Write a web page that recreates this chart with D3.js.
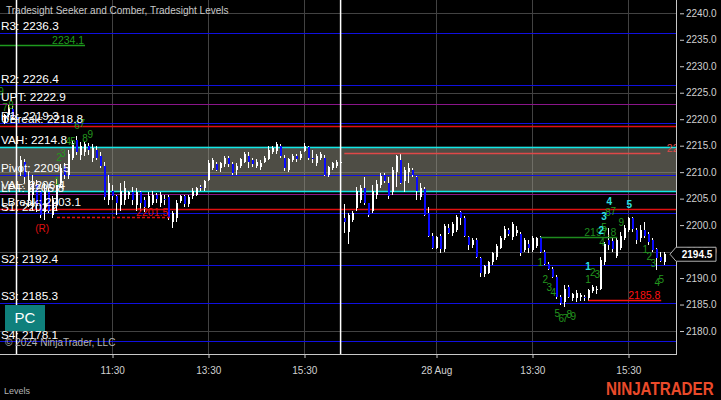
<!DOCTYPE html>
<html><head><meta charset="utf-8">
<script src="https://cdn.jsdelivr.net/npm/d3@7"></script>
<style>html,body{margin:0;padding:0;background:#000;}svg{display:block;font-family:Arial,"Liberation Sans",sans-serif;}</style>
</head><body><svg id="c" width="721" height="400"></svg>
<script>
// ---------- data ----------
const firstBar = 1;
const opens = [2219.5,2220.75,2222.0,2220.5,2210.0,2212.0,2204.75,2205.75,2207.5,2206.25,
2202.5,2206.25,2202.0,2203.75,2208.0,2211.25,2209.5,2212.75,2216.0,2213.25,
2213.75,2215.0,2212.75,2214.25,2213.0,2211.25,2204.75,2206.5,2205.5,2203.75,
2204.75,2205.75,2206.25,2203.75,2206.25,2204.75,2203.5,2204.25,2205.75,2204.25,
2205.0,2205.25,2200.5,2201.25,2204.5,2205.5,2204.0,2205.5,2205.75,2207.25,
2207.0,2208.5,2210.75,2211.5,2210.75,2211.5,2212.75,2211.5,2210.5,2211.25,
2212.0,2213.0,2212.25,2211.25,2211.0,2212.0,2212.5,2213.75,2214.0,2215.0,
2212.75,2210.5,2212.25,2213.0,2212.75,2214.0,2214.75,2212.75,2211.75,2212.75,
2212.75,2209.5,2210.75,2211.25,2212.0,2201.25,2198.75,2201.0,2203.25,2204.75,
2207.0,2204.25,2202.75,2205.75,2207.5,2209.5,2208.0,2206.25,2210.0,2212.25,
2208.25,2210.0,2210.5,2209.0,2205.25,2206.75,2202.25,2198.0,2195.75,2198.0,
2195.5,2199.5,2198.5,2199.0,2202.5,2201.25,2197.75,2196.25,2197.25,2193.75,
2190.75,2191.0,2193.0,2194.0,2195.75,2197.5,2199.0,2197.75,2198.5,2198.25,
2195.25,2196.5,2195.25,2196.0,2197.75,2195.0,2192.75,2191.75,2190.25,2186.5,
2185.5,2188.25,2186.25,2186.25,2186.5,2186.5,2186.25,2187.5,2187.75,2188.0,
2193.0,2197.25,2197.0,2194.25,2195.75,2197.5,2199.0,2201.25,2199.0,2197.5,
2199.0,2198.25,2197.25,2195.5,2194.0,2193.0];
const highs = [2221.0,2222.75,2222.5,2221.0,2213.0,2212.5,2210.0,2209.5,2208.5,2206.5,
2208.0,2207.0,2205.5,2208.75,2211.5,2211.75,2214.25,2216.0,2216.75,2215.75,
2215.75,2215.5,2215.25,2215.0,2213.75,2212.0,2209.5,2207.5,2205.75,2208.0,
2208.25,2206.5,2207.25,2207.0,2206.5,2205.25,2206.25,2206.5,2206.0,2206.25,
2205.75,2205.75,2202.75,2204.75,2205.75,2205.75,2205.75,2207.0,2207.25,2207.5,
2208.5,2212.25,2212.75,2212.0,2212.0,2213.0,2213.0,2212.0,2211.75,2212.75,
2213.75,2213.75,2212.75,2212.5,2212.25,2213.0,2215.0,2215.0,2215.75,2215.25,
2213.25,2212.75,2213.5,2213.5,2214.0,2215.5,2215.0,2214.25,2213.5,2213.75,
2213.25,2211.25,2212.0,2212.25,2212.0,2204.0,2202.25,2202.75,2207.25,2207.5,
2209.0,2204.25,2207.5,2208.5,2209.75,2209.75,2209.0,2211.0,2213.25,2213.5,
2211.0,2211.75,2210.75,2209.25,2208.0,2207.25,2203.5,2198.5,2198.0,2198.25,
2200.25,2200.25,2200.5,2202.0,2202.75,2201.75,2198.0,2197.5,2197.5,2194.0,
2192.5,2193.25,2195.0,2196.5,2198.0,2199.75,2199.5,2200.5,2199.75,2198.75,
2197.5,2197.25,2198.0,2197.75,2198.0,2195.25,2193.0,2192.0,2190.5,2186.75,
2188.75,2188.75,2187.25,2187.75,2187.25,2186.75,2188.0,2188.75,2188.5,2194.0,
2196.75,2199.5,2197.5,2197.75,2198.75,2200.0,2201.5,2201.5,2199.5,2200.0,
2200.5,2198.75,2197.5,2195.75,2195.0,2195.0];
const lows = [2219.0,2220.5,2220.25,2219.75,2209.25,2208.0,2203.5,2202.75,2202.5,2201.25,
2201.0,2202.25,2201.25,2202.75,2207.25,2208.75,2208.75,2212.25,2213.25,2212.25,
2213.0,2213.25,2212.0,2212.25,2210.75,2204.75,2203.75,2204.75,2202.0,2202.75,
2203.75,2205.0,2203.75,2202.75,2202.75,2202.5,2203.25,2203.75,2204.25,2203.5,
2203.75,2201.0,2199.5,2200.5,2204.25,2203.5,2203.5,2205.0,2205.5,2206.5,
2206.5,2208.25,2210.5,2210.25,2210.0,2211.0,2211.0,2209.5,2209.5,2210.75,
2211.75,2210.75,2211.0,2210.75,2210.5,2211.75,2212.25,2213.5,2213.5,2212.75,
2210.25,2210.0,2212.0,2212.0,2212.25,2213.75,2212.25,2211.75,2211.25,2212.25,
2209.25,2209.0,2210.5,2210.75,2211.75,2198.5,2196.5,2200.5,2202.75,2204.25,
2203.75,2201.5,2202.25,2205.0,2207.0,2208.0,2205.0,2205.75,2207.25,2207.75,
2206.25,2208.0,2209.0,2204.75,2204.75,2201.75,2197.75,2195.5,2195.5,2194.75,
2195.0,2198.25,2198.0,2198.75,2200.0,2197.75,2195.25,2195.75,2193.75,2190.25,
2190.25,2190.75,2192.5,2193.5,2195.5,2197.25,2198.0,2197.25,2198.0,2194.25,
2195.0,2194.75,2195.0,2195.75,2194.75,2192.5,2191.5,2190.0,2186.0,2185.0,
2184.5,2186.25,2185.75,2185.5,2185.75,2185.75,2185.75,2187.25,2187.0,2187.75,
2192.5,2195.25,2195.0,2193.75,2195.25,2197.25,2198.75,2198.75,2196.5,2196.75,
2197.5,2196.25,2195.0,2191.5,2193.0,2192.5];
const closes = [2220.75,2222.25,2220.5,2220.0,2212.25,2209.0,2208.5,2208.0,2203.75,2202.0,
2206.5,2202.75,2204.75,2207.5,2210.75,2209.5,2213.5,2215.5,2213.75,2215.0,
2215.25,2214.25,2214.5,2212.75,2211.25,2205.25,2208.0,2205.5,2204.25,2206.5,
2207.0,2206.25,2204.75,2206.25,2204.25,2203.5,2205.5,2205.75,2205.0,2205.75,
2204.75,2201.25,2202.25,2204.25,2205.5,2204.0,2205.25,2206.5,2207.0,2207.0,
2208.25,2211.75,2212.25,2210.5,2211.75,2212.75,2211.5,2209.75,2211.25,2212.5,
2213.5,2212.0,2211.5,2212.0,2211.75,2212.75,2214.25,2214.5,2215.25,2213.0,
2210.75,2212.5,2213.0,2212.5,2213.5,2215.0,2212.75,2212.5,2213.0,2213.5,
2209.5,2211.0,2211.75,2212.0,2212.0,2200.5,2202.0,2202.25,2206.5,2207.0,
2204.25,2202.0,2206.5,2207.75,2209.25,2208.25,2205.5,2210.5,2213.0,2208.0,
2210.5,2210.75,2209.5,2206.5,2207.0,2202.0,2198.0,2195.75,2197.75,2195.5,
2199.75,2198.5,2200.25,2201.5,2201.25,2198.0,2196.25,2197.25,2194.0,2191.0,
2192.25,2193.0,2194.75,2196.0,2197.5,2199.25,2198.25,2200.25,2199.0,2194.75,
2197.25,2195.75,2197.5,2197.5,2195.0,2192.75,2191.75,2190.25,2186.5,2185.25,
2188.0,2186.5,2187.0,2187.25,2186.75,2186.25,2187.75,2188.25,2188.0,2193.5,
2196.5,2196.25,2195.5,2197.25,2198.0,2199.5,2201.25,2199.25,2197.25,2199.0,
2198.0,2196.75,2195.25,2193.75,2193.25,2194.5];

const timeTickBars = [28, 52, 76, 109, 133, 157];
const timeTickLabels = ["11:30", "13:30", "15:30", "28 Aug", "13:30", "15:30"];
const priceTicks = [2180,2185,2190,2195,2200,2205,2210,2215,2220,2225,2230,2235,2240];
const gridPrices = [2180,2195,2210,2225,2240];
const sessionBars = [4, 85];

const levelNames  = ["R3","R2","UPT","R1","UBreak","VAH","Pivot","VAL","LPT","LBreak","S1","S2","S3","S4"];
const levelValues = [2236.3,2226.4,2222.9,2219.3,2218.8,2214.8,2209.5,2206.4,2205.8,2203.1,2202.2,2192.4,2185.3,2178.1];
const levelColors = ["#1010e0","#1010e0","#8a158a","#1010e0","#e01010","#10e8e8","#1010e0","#10e8e8","#8a158a","#e01010","#1010e0","#1010e0","#1010e0","#1010e0"];
const vaHigh = 2214.8, vaLow = 2206.4;

// horizontal segment markers
const segPrices = [2234.1, 2201.5, 2213.6, 2197.8, 2185.8];
const segFrom   = [-0.05, 14.2, 86.0, 135.0, 147.0];
const segTo     = [21.2, 42.4, 165.0, 154.2, 165.2];
const segColors = ["#1e9a1e", "#e01010", "#e04848", "#1e8a1e", "#ff1010"];
const segDashed = [false, true, false, false, false];
const segLabels = ["2234.1", "2201.5", "2213.6", "2197.8", "2185.8"];
const segLabelBar = [21.0, 42.0, 166.6, 154.0, 165.0];
const segLabelAnchor = ["end", "end", "start", "end", "end"];

const greenCountText = ["9","7","8","1","2","3","4","5","6","7","8","9","1","2","3","4","5","6","7","8","9","1","2","3","4","5","8","7","9","1","2","3","4","5"];
const greenCountBar = [0.2,1.2,2.7,14.2,14.7,15.7,17.0,18.2,19.2,20.5,21.2,22.5,135.0,136.2,137.2,138.2,139.2,140.2,141.2,142.2,143.2,146.9,148.1,149.2,150.4,150.9,151.9,153.2,155.2,161.2,162.2,163.2,164.2,165.2];
const greenCountPrice = [2225.3,2222.3,2222.5,2208.3,2212.7,2213.6,2215.7,2215.7,2218.9,2219.1,2216.4,2217.2,2192.85,2189.8,2188.3,2187.2,2183.4,2182.45,2182.45,2183.2,2182.65,2189.8,2191.1,2190.6,2196.8,2199.6,2202.3,2202.5,2200.4,2195.3,2194.0,2192.7,2189.1,2189.8];
const cyanCountText = ["1","2","3","4","5"];
const cyanCountBar = [146.9,150.2,150.9,152.2,157.2];
const cyanCountPrice = [2192.1,2198.9,2201.7,2204.4,2203.8];

const lastPrice = 2194.5;

// ---------- drawing ----------
const W = 721, H = 400, PR = 676, PB = 354;
const svg = d3.select("#c");
const x = d3.scaleLinear().domain([-0.05, 168.9]).range([0, PR]);
const y = d3.scaleLinear().domain([2175.66, 2242.51]).range([PB, 0]);

svg.append("rect").attr("width", W).attr("height", H).attr("fill", "#000");
svg.append("defs").append("clipPath").attr("id", "clip")
  .append("rect").attr("width", PR).attr("height", PB);
const plot = svg.append("g").attr("clip-path", "url(#clip)");

// grid
plot.selectAll(".vg").data(timeTickBars).join("line")
  .attr("x1", d => Math.round(x(d)) + 0.5).attr("x2", d => Math.round(x(d)) + 0.5)
  .attr("y1", 0).attr("y2", PB).attr("stroke", "#424242").attr("stroke-width", 1);
plot.selectAll(".hg").data(gridPrices).join("line")
  .attr("x1", 0).attr("x2", PR)
  .attr("y1", d => Math.round(y(d)) + 0.5).attr("y2", d => Math.round(y(d)) + 0.5)
  .attr("stroke", "#424242").attr("stroke-width", 1);

// value area fill (semi-transparent)
plot.append("rect").attr("x", 0).attr("width", PR)
  .attr("y", y(vaHigh)).attr("height", y(vaLow) - y(vaHigh))
  .attr("fill", "#9c9a8a").attr("fill-opacity", 0.5);

// level lines
levelValues.forEach((v, k) => {
  const yy = Math.round(y(v)) + 0.5;
  plot.append("line").attr("x1", 0).attr("x2", PR).attr("y1", yy).attr("y2", yy)
    .attr("stroke", levelColors[k]).attr("stroke-width", levelColors[k] === "#10e8e8" || levelColors[k] === "#e01010" ? 1.6 : 1.2);
});

// candles
const bars = opens.map((o, k) => ({ i: firstBar + k, o, h: highs[k], l: lows[k], c: closes[k] }));
const cg = plot.append("g").attr("shape-rendering", "crispEdges");
bars.forEach(b => {
  const px = Math.round(x(b.i));
  const up = b.c >= b.o;
  cg.append("rect").attr("x", px).attr("width", 1)
    .attr("y", y(b.h)).attr("height", Math.max(1, y(b.l) - y(b.h))).attr("fill", "#fff");
  const top = y(Math.max(b.o, b.c)), bot = y(Math.min(b.o, b.c));
  cg.append("rect").attr("x", px - 0.5).attr("width", 2.2)
    .attr("y", top).attr("height", Math.max(1, bot - top))
    .attr("fill", up ? "#ffffff" : "#0a0aff");
});

// segment markers
segPrices.forEach((p, k) => {
  const yy = Math.round(y(p)) + 0.5;
  plot.append("line").attr("x1", x(segFrom[k])).attr("x2", x(segTo[k])).attr("y1", yy).attr("y2", yy)
    .attr("stroke", segColors[k]).attr("stroke-width", 1.5)
    .attr("stroke-dasharray", segDashed[k] ? "3,2" : null);
  plot.append("text").attr("x", x(segLabelBar[k])).attr("y", yy - 1.5)
    .attr("text-anchor", segLabelAnchor[k]).attr("font-size", 10.5)
    .attr("fill", segColors[k]).text(segLabels[k]);
});
plot.append("text").attr("x", x(10.5)).attr("y", y(2199.4)).attr("dy", "0.35em")
  .attr("text-anchor", "middle").attr("font-size", 10).attr("fill", "#e01010").text("(R)");

// counts
greenCountText.forEach((t, k) => {
  plot.append("text").attr("x", x(greenCountBar[k])).attr("y", y(greenCountPrice[k])).attr("dy", "0.35em")
    .attr("text-anchor", "middle").attr("font-size", 10).attr("fill", "#23961f").text(t);
});
cyanCountText.forEach((t, k) => {
  plot.append("text").attr("x", x(cyanCountBar[k])).attr("y", y(cyanCountPrice[k])).attr("dy", "0.35em")
    .attr("text-anchor", "middle").attr("font-size", 10).attr("font-weight", "bold").attr("fill", "#2fe0e0").text(t);
});

// session lines
plot.selectAll(".sess").data(sessionBars).join("line")
  .attr("x1", d => x(d) + 0.3).attr("x2", d => x(d) + 0.3).attr("y1", 0).attr("y2", PB)
  .attr("stroke", "#fff").attr("stroke-width", 1.5);

// level labels
levelValues.forEach((v, k) => {
  plot.append("text").attr("x", 1).attr("y", y(v) - 2.5)
    .attr("font-size", 11.8).attr("fill", "#fff").text(levelNames[k] + ": " + v.toFixed(1));
});

// title & texts
svg.append("text").attr("x", 6).attr("y", 14).attr("font-size", 10).attr("fill", "#c8c8c8")
  .text("Tradesight Seeker and Comber, Tradesight Levels");
svg.append("rect").attr("x", 5).attr("y", 305).attr("width", 40).attr("height", 26).attr("fill", "#0f807c");
svg.append("text").attr("x", 25).attr("y", 318).attr("dy", "0.35em").attr("text-anchor", "middle")
  .attr("font-size", 15).attr("fill", "#fff").text("PC");
svg.append("text").attr("x", 5).attr("y", 345.5).attr("font-size", 10).attr("fill", "#b4b4b4")
  .text("\u00a9 2024 NinjaTrader, LLC");
svg.append("text").attr("x", 4).attr("y", 394).attr("font-size", 9).attr("fill", "#b4b4b4").text("Levels");
svg.append("text").attr("transform", "translate(606,395) scale(1,1.15)")
  .attr("font-size", 15.2).attr("font-weight", "bold")
  .attr("fill", "#ea4a2a").text("NINJATRADER");

// borders
svg.append("line").attr("x1", PR + 0.5).attr("x2", PR + 0.5).attr("y1", 0).attr("y2", PB + 1)
  .attr("stroke", "#c8c8c8").attr("stroke-width", 1);
svg.append("line").attr("x1", 0).attr("x2", PR + 1).attr("y1", PB + 0.5).attr("y2", PB + 0.5)
  .attr("stroke", "#c8c8c8").attr("stroke-width", 1);

// right axis
const ra = svg.append("g").attr("transform", `translate(${PR + 4},0)`)
  .call(d3.axisRight(y).tickValues(priceTicks).tickFormat(d => d.toFixed(1)).tickSize(4).tickPadding(2));
ra.select(".domain").remove();
ra.selectAll("line").attr("stroke", "#c8c8c8");
ra.selectAll("text").attr("fill", "#d0d0d0").attr("font-size", 10).attr("font-family", "Arial, 'Liberation Sans', sans-serif");

// bottom axis
const ba = svg.append("g").attr("transform", `translate(0,${PB})`)
  .call(d3.axisBottom(x).tickValues(timeTickBars).tickFormat((d, i) => timeTickLabels[i]).tickSize(4).tickPadding(9));
ba.select(".domain").remove();
ba.selectAll("line").attr("stroke", "#c8c8c8").attr("transform", function(d){ return "translate(" + (Math.round(x(d)) + 0.5 - x(d)) + ",0)"; });
ba.selectAll("text").attr("fill", "#d0d0d0").attr("font-size", 10).attr("font-family", "Arial, 'Liberation Sans', sans-serif");

// last price marker
const ly = y(lastPrice);
svg.append("path")
  .attr("d", `M${PR - 6},${ly} L${PR},${ly - 7} L${PR + 40},${ly - 7} L${PR + 40},${ly + 7} L${PR},${ly + 7} Z`)
  .attr("fill", "#000").attr("stroke", "#b0b0b0").attr("stroke-width", 1);
svg.append("text").attr("x", PR + 21).attr("y", ly).attr("dy", "0.36em").attr("text-anchor", "middle")
  .attr("font-size", 10).attr("font-weight", "bold").attr("fill", "#fff").text(lastPrice.toFixed(1));
</script>
</body></html>
